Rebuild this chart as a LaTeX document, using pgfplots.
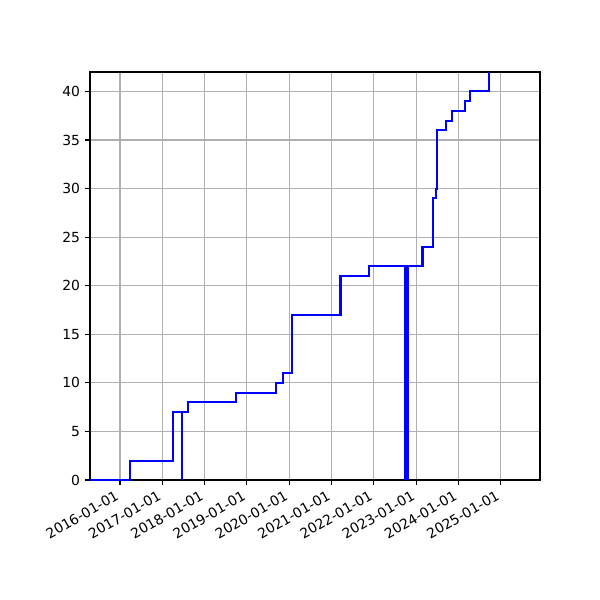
\documentclass[border=0pt]{standalone}
\usepackage{fontspec}
\setmainfont{DejaVu Sans}
\usepackage{graphicx}
\usepackage{pgfplots}
\pgfplotsset{compat=1.18}
\definecolor{gridgray}{HTML}{B0B0B0}
\newcommand{\rl}[1]{\rotatebox{30}{#1}}
\begin{document}
\fontsize{10}{12}\selectfont
\begin{tikzpicture}
% days counted from 2016-01-01
\begin{axis}[
  at={(0pt,0pt)}, anchor=south west,
  scale only axis,
  width=324pt, height=293.76pt,
  xmin=-259, xmax=3627,
  ymin=0, ymax=42,
  xtick={0,366,731,1096,1461,1827,2192,2557,2922,3288},
  xticklabels={{\rl{2016-01-01}},{\rl{2017-01-01}},{\rl{2018-01-01}},{\rl{2019-01-01}},{\rl{2020-01-01}},{\rl{2021-01-01}},{\rl{2022-01-01}},{\rl{2023-01-01}},{\rl{2024-01-01}},{\rl{2025-01-01}}},
  ytick={0,5,...,40},
  xticklabel style={anchor=north east, inner xsep=0pt, inner ysep=3.5pt},
  yticklabel style={inner xsep=3.5pt},
  tick label style={font=\fontsize{10}{12}\selectfont},
  /pgf/number format/assume math mode=true,
  tick align=outside,
  xtick pos=left, ytick pos=left,
  major tick length=3.5pt,
  tick style={black, line width=0.8pt},
  axis line style={black, line width=0.8pt},
  grid=major,
  major grid style={gridgray, line width=0.8pt},
  clip=true,
]
\addplot[const plot, blue, line width=1.5pt] coordinates {
  (-259,0) (90,2) (458,7) (533,0) (533,7) (585,8) (999,9) (1347,10)
  (1411,11) (1486,17) (1904,21) (2154,22) (2612,24) (2704,29) (2727,30)
  (2738,36) (2816,37) (2867,38) (2977,39) (3023,40) (3190,45)
};
\addplot[blue, line width=3.3pt, line cap=butt] coordinates {(2473,0) (2473,22)};
\end{axis}
\path[use as bounding box] (-64.8pt,-86.4pt) rectangle (367.2pt,345.6pt);
\end{tikzpicture}
\end{document}
